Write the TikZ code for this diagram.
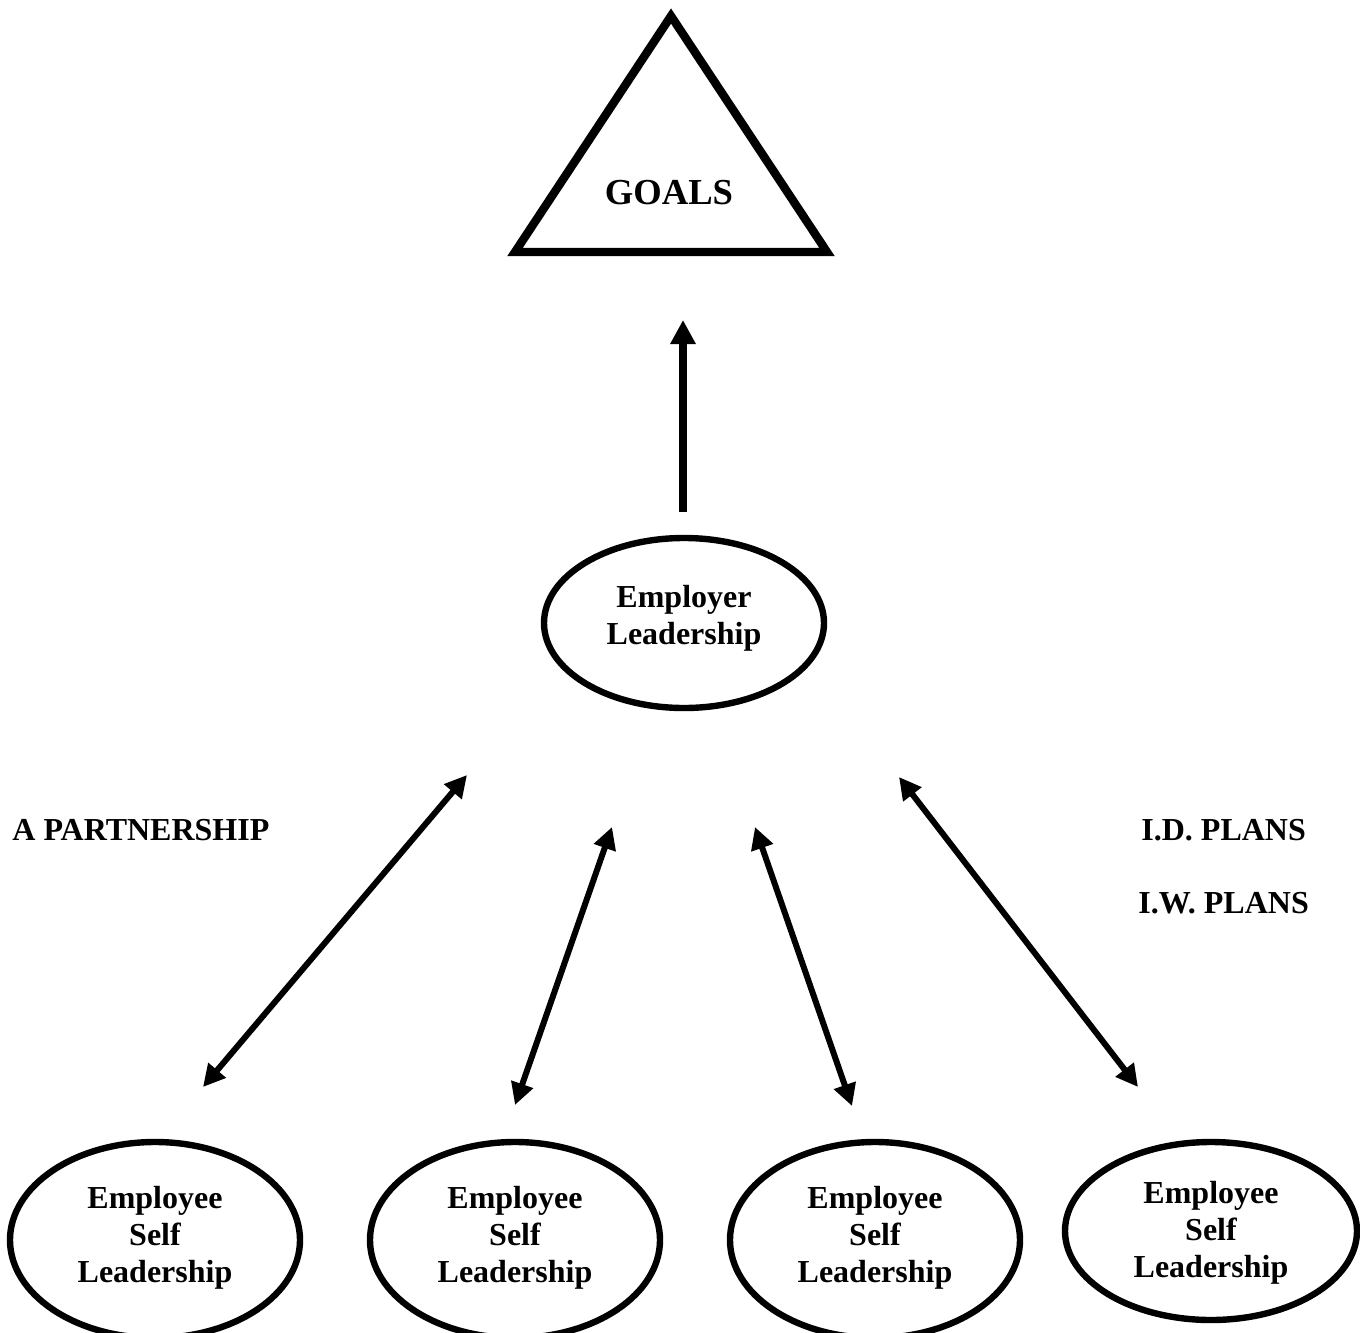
\documentclass[tikz,border=0pt]{standalone}
\usepackage{fontspec}
\setmainfont{Liberation Serif}
\usetikzlibrary{arrows.meta,shapes.geometric}
\begin{document}
\begin{tikzpicture}[x=0.5pt,y=-0.5pt,
  oval/.style={ellipse,draw,line width=3.2pt,inner sep=0pt},
  ovaltext/.style={inner sep=0pt,align=center,
    font=\bfseries\fontsize{16}{18.5}\selectfont},
  lbl/.style={inner sep=0pt,font=\bfseries\fontsize{16}{19}\selectfont},
  link/.style={line width=3pt,{Triangle[length=11pt,width=11pt]}-{Triangle[length=11pt,width=11pt]}},
  uparrow/.style={line width=3.6pt,-{Triangle[length=12pt,width=12pt]}}]
\useasboundingbox (0,0) rectangle (1360,1333);
% triangle
\coordinate (tA) at (671,16);
\coordinate (tR) at (827,252);
\coordinate (tL) at (515,252);
\draw[line width=4.2pt,line join=miter] (tA) -- (tR) -- (tL) -- cycle;
\node[inner sep=0pt,font=\bfseries\fontsize{18.3}{22}\selectfont] (goals) at (669,193) {GOALS};
% employer
\node[oval,minimum width=140pt,minimum height=85pt] (emp) at (684,623) {};
\node[ovaltext] (empt) at (684,618) {Employer\\Leadership};
\coordinate (upS) at (683,512);
\coordinate (upT) at (683,320);
\draw[uparrow] (upS) -- (upT);
% employees
\node[oval,minimum width=145pt,minimum height=98pt] (e1) at (155,1240) {};
\node[oval,minimum width=145pt,minimum height=98pt] (e2) at (515,1240) {};
\node[oval,minimum width=145pt,minimum height=98pt] (e3) at (875,1240) {};
\node[oval,minimum width=146pt,minimum height=89pt] (e4) at (1211,1231) {};
\node[ovaltext] (e1t) at (155,1238) {Employee\\Self\\Leadership};
\node[ovaltext] (e2t) at (515,1238) {Employee\\Self\\Leadership};
\node[ovaltext] (e3t) at (875,1238) {Employee\\Self\\Leadership};
\node[ovaltext] (e4t) at (1211,1233) {Employee\\Self\\Leadership};
% arrows
\coordinate (a1t) at (467,775); \coordinate (a1b) at (203,1087);
\coordinate (a2t) at (612,827); \coordinate (a2b) at (515,1105);
\coordinate (a3t) at (755,827); \coordinate (a3b) at (852,1106);
\coordinate (a4t) at (899,777); \coordinate (a4b) at (1138,1087);
\draw[link] (a1t) -- (a1b);
\draw[link] (a2t) -- (a2b);
\draw[link] (a3t) -- (a3b);
\draw[link] (a4t) -- (a4b);
% labels
\node[lbl,anchor=west] (part) at (12,830) {A PARTNERSHIP};
\node[lbl,anchor=west] (idp) at (1141,830) {I.D. PLANS};
\node[lbl,anchor=west] (iwp) at (1138,903) {I.W. PLANS};
\end{tikzpicture}
\end{document}
